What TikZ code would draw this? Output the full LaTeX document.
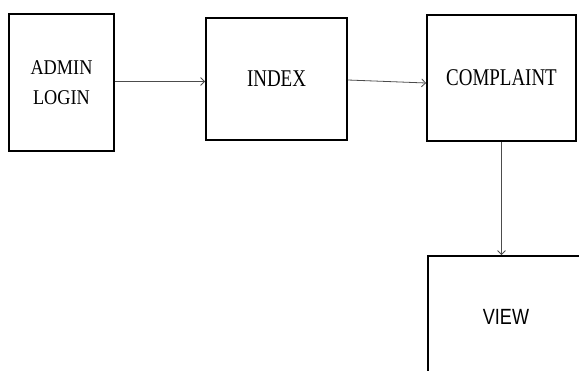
\documentclass[tikz,border=0pt]{standalone}
\usepackage{fontspec}
\setmainfont{Liberation Serif}
\newfontfamily\condserif[FakeStretch=0.79]{Liberation Serif}
\newfontfamily\admserif[FakeStretch=0.87]{Liberation Serif}
\newfontfamily\viewfont[FakeStretch=0.82]{Liberation Sans}
\usetikzlibrary{arrows.meta}
\begin{document}
\begin{tikzpicture}[x=1pt,y=-1pt,
  boxnode/.style={draw=black,line width=1.8pt,rectangle,inner sep=0pt,
    font=\condserif\fontsize{24}{28}\selectfont,text=black,align=center},
  link/.style={draw=black!70,line width=0.8pt,-{Straight Barb[length=4pt,width=8pt]}}]
\useasboundingbox (0,0) rectangle (579,370);
\node[boxnode,minimum width=105pt,minimum height=137pt,font=\admserif\fontsize{21}{30}\selectfont] (admin) at (61.5,82.5) {ADMIN\\LOGIN};
\node[boxnode,minimum width=141pt,minimum height=122pt] (index) at (276.5,79) {INDEX};
\node[boxnode,minimum width=149pt,minimum height=126pt] (complaint) at (501.5,78) {COMPLAINT};
\begin{scope}
\clip (0,0) rectangle (579,370);
\node[boxnode,minimum width=156pt,minimum height=122pt,font=\viewfont\fontsize{22}{26}\selectfont] (view) at (506,317) {VIEW};
\end{scope}
\draw[link] ([yshift=1pt]admin.east) -- ([yshift=1pt]admin.east -| index.west);
\draw[link] ([yshift=-1pt]index.east) -- ([yshift=-5pt]complaint.west);
\draw[link] (complaint.south) -- (complaint.south |- view.north);
\end{tikzpicture}
\end{document}
